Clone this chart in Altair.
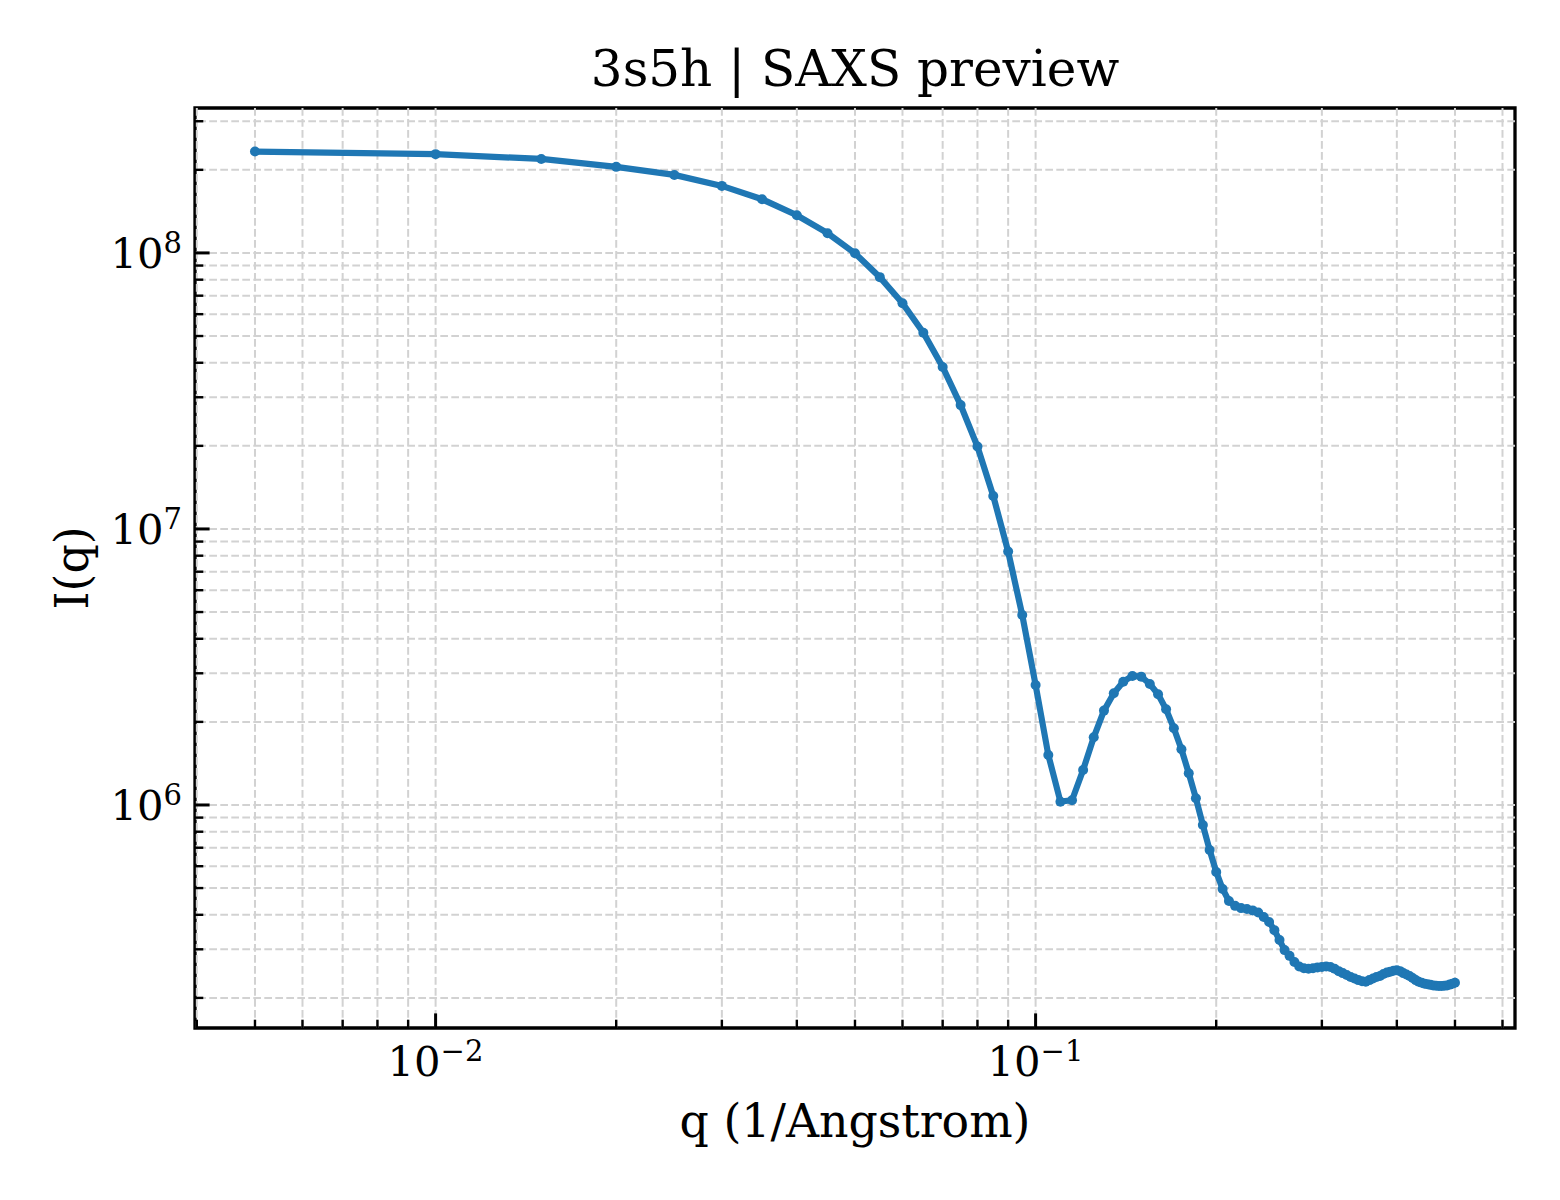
import altair as alt
import pandas as pd

# scattering vector q (1/Angstrom) and intensity
q = [0.005, 0.010, 0.015, 0.020, 0.025, 0.030, 0.035, 0.040, 0.045, 0.050,
     0.055, 0.060, 0.065, 0.070, 0.075, 0.080, 0.085, 0.090, 0.095, 0.100,
     0.105, 0.110, 0.115, 0.120, 0.125, 0.130, 0.135, 0.140, 0.145, 0.150,
     0.155, 0.160, 0.165, 0.170, 0.175, 0.180, 0.185, 0.190, 0.195, 0.200,
     0.205, 0.210, 0.215, 0.220, 0.225, 0.230, 0.235, 0.240, 0.245, 0.250,
     0.255, 0.260, 0.265, 0.270, 0.275, 0.280, 0.285, 0.290, 0.295, 0.300,
     0.305, 0.310, 0.315, 0.320, 0.325, 0.330, 0.335, 0.340, 0.345, 0.350,
     0.355, 0.360, 0.365, 0.370, 0.375, 0.380, 0.385, 0.390, 0.395, 0.400,
     0.405, 0.410, 0.415, 0.420, 0.425, 0.430, 0.435, 0.440, 0.445, 0.450,
     0.455, 0.460, 0.465, 0.470, 0.475, 0.480, 0.485, 0.490, 0.495, 0.500]

intensity = [2.33e8, 2.28e8, 2.19e8, 2.05e8, 1.917e8, 1.749e8, 1.565e8, 1.369e8, 1.179e8, 9.97e7,
             8.17e7, 6.57e7, 5.14e7, 3.86e7, 2.81e7, 1.99e7, 1.317e7, 8.28e6, 4.88e6, 2.72e6,
             1.518e6, 1.028e6, 1.04e6, 1.339e6, 1.759e6, 2.197e6, 2.539e6, 2.797e6, 2.934e6, 2.917e6,
             2.744e6, 2.518e6, 2.222e6, 1.896e6, 1.592e6, 1.303e6, 1.058e6, 8.46e5, 6.87e5, 5.72e5,
             4.96e5, 4.49e5, 4.31e5, 4.23e5, 4.20e5, 4.15e5, 4.08e5, 3.93e5, 3.77e5, 3.52e5,
             3.24e5, 2.98e5, 2.84e5, 2.70e5, 2.60e5, 2.56e5, 2.55e5, 2.56e5, 2.58e5, 2.59e5,
             2.60e5, 2.59e5, 2.55e5, 2.50e5, 2.46e5, 2.42e5, 2.38e5, 2.35e5, 2.32e5, 2.30e5,
             2.29e5, 2.32e5, 2.35e5, 2.38e5, 2.40e5, 2.44e5, 2.47e5, 2.49e5, 2.51e5, 2.52e5,
             2.50e5, 2.46e5, 2.43e5, 2.40e5, 2.36e5, 2.32e5, 2.29e5, 2.27e5, 2.25e5, 2.24e5,
             2.23e5, 2.22e5, 2.215e5, 2.21e5, 2.21e5, 2.215e5, 2.22e5, 2.235e5, 2.25e5, 2.27e5]

# tick positions
x_major = [0.01, 0.1]
x_minor = [0.004, 0.005, 0.006, 0.007, 0.008, 0.009,
           0.02, 0.03, 0.04, 0.05, 0.06, 0.07, 0.08, 0.09,
           0.2, 0.3, 0.4, 0.5, 0.6]
x_exp = ["\u22122", "\u22121"]
y_major = [1e6, 1e7, 1e8]
y_minor = [2e5, 3e5, 4e5, 5e5, 6e5, 7e5, 8e5, 9e5,
           2e6, 3e6, 4e6, 5e6, 6e6, 7e6, 8e6, 9e6,
           2e7, 3e7, 4e7, 5e7, 6e7, 7e7, 8e7, 9e7,
           2e8, 3e8]
y_exp = ["6", "7", "8"]

title_text = ["3s5h | SAXS preview"]
x_title = ["q (1/Angstrom)"]
y_title = ["I(q)"]

W, H = 1320, 920
FONT = "DejaVu Serif"
BLUE = "#1f77b4"

curve = pd.DataFrame({"q": q, "I": intensity})
gx = pd.DataFrame({"v": x_major + x_minor})
gy = pd.DataFrame({"v": y_major + y_minor})
txm = pd.DataFrame({"v": x_major, "exp": x_exp})
txn = pd.DataFrame({"v": x_minor})
tym = pd.DataFrame({"v": y_major, "exp": y_exp})
tyn = pd.DataFrame({"v": y_minor})

xs = alt.Scale(type="log", domain=[0.003972, 0.6295])
ys = alt.Scale(type="log", domain=[1.556e5, 3.35e8])

grid_style = dict(color="#d2d2d2", strokeWidth=2, strokeDash=[7.7, 3.3])
grid_x = alt.Chart(gx).mark_rule(**grid_style).encode(x=alt.X("v:Q", scale=xs, axis=None))
grid_y = alt.Chart(gy).mark_rule(**grid_style).encode(y=alt.Y("v:Q", scale=ys, axis=None))

base = alt.Chart(curve).encode(
    x=alt.X("q:Q", scale=xs, axis=None),
    y=alt.Y("I:Q", scale=ys, axis=None),
)
line = base.mark_line(color=BLUE, strokeWidth=6.2)
dots = base.mark_circle(color=BLUE, size=100, opacity=1)

tick_x_major = alt.Chart(txm).mark_rule(color="black", strokeWidth=3).encode(
    x=alt.X("v:Q", scale=xs, axis=None), y=alt.value(H), y2=alt.value(H - 14.6))
tick_x_minor = alt.Chart(txn).mark_rule(color="black", strokeWidth=2.4).encode(
    x=alt.X("v:Q", scale=xs, axis=None), y=alt.value(H), y2=alt.value(H - 8.3))
tick_y_major = alt.Chart(tym).mark_rule(color="black", strokeWidth=3).encode(
    y=alt.Y("v:Q", scale=ys, axis=None), x=alt.value(0), x2=alt.value(14.6))
tick_y_minor = alt.Chart(tyn).mark_rule(color="black", strokeWidth=2.4).encode(
    y=alt.Y("v:Q", scale=ys, axis=None), x=alt.value(0), x2=alt.value(8.3))

# decade labels written as 10 with a raised exponent
xl_base = alt.Chart(txm).mark_text(text="10", align="right", baseline="alphabetic", dx=5,
                                   font=FONT, fontSize=41.7, color="black").encode(
    x=alt.X("v:Q", scale=xs, axis=None), y=alt.value(H + 48))
xl_exp = alt.Chart(txm).mark_text(align="left", baseline="alphabetic", dx=5,
                                  font=FONT, fontSize=29, color="black").encode(
    x=alt.X("v:Q", scale=xs, axis=None), y=alt.value(H + 33), text="exp:N")
yl_base = alt.Chart(tym).mark_text(text="10", align="right", baseline="alphabetic", dy=15,
                                   font=FONT, fontSize=41.7, color="black").encode(
    y=alt.Y("v:Q", scale=ys, axis=None), x=alt.value(-31.4))
yl_exp = alt.Chart(tym).mark_text(align="right", baseline="alphabetic", dy=0,
                                  font=FONT, fontSize=29, color="black").encode(
    y=alt.Y("v:Q", scale=ys, axis=None), x=alt.value(-13), text="exp:N")

# titles
title = alt.Chart(pd.DataFrame({"t": title_text})).mark_text(
    align="center", baseline="alphabetic", font=FONT, fontSize=50, color="black").encode(
    x=alt.value(W / 2), y=alt.value(-22), text="t:N")
xt = alt.Chart(pd.DataFrame({"t": x_title})).mark_text(
    align="center", baseline="alphabetic", font=FONT, fontSize=45.8, color="black").encode(
    x=alt.value(W / 2), y=alt.value(H + 109), text="t:N")
yt = alt.Chart(pd.DataFrame({"t": y_title})).mark_text(
    align="center", baseline="alphabetic", angle=270, font=FONT, fontSize=45.8,
    color="black").encode(x=alt.value(-107), y=alt.value(H / 2), text="t:N")

chart = alt.layer(
    grid_x, grid_y, line, dots,
    tick_x_major, tick_x_minor, tick_y_major, tick_y_minor,
    xl_base, xl_exp, yl_base, yl_exp, title, xt, yt,
).properties(
    width=W,
    height=H,
    background="white",
    autosize=alt.AutoSizeParams(type="none"),
    padding={"left": 187, "top": 100, "right": 37, "bottom": 164},
).configure_view(
    stroke="black", strokeWidth=3.3
)

chart.save("out.html", embed_options={"renderer": "svg", "actions": False})
